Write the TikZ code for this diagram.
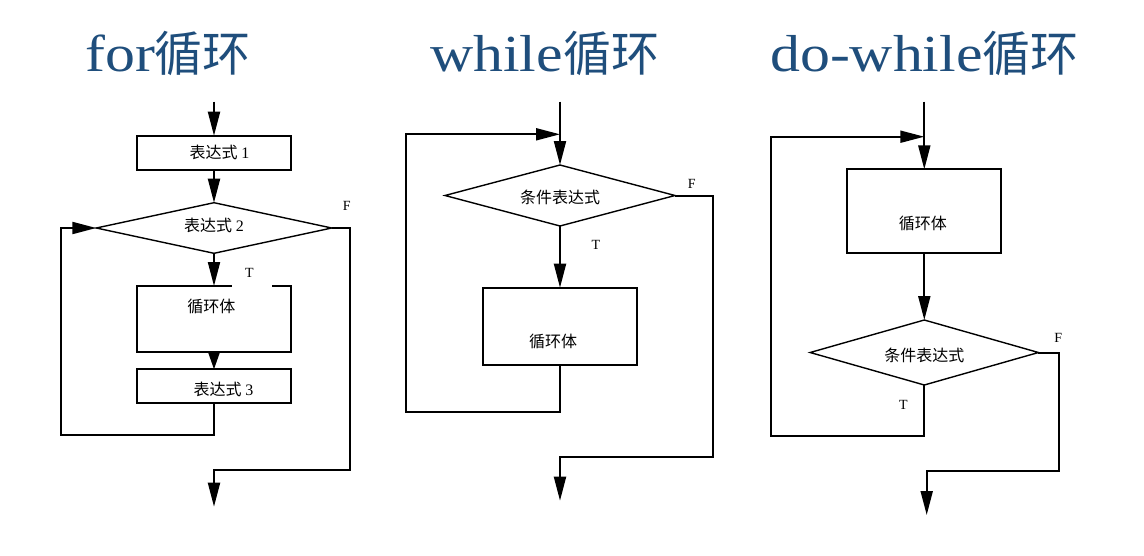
\documentclass[tikz,border=0pt]{standalone}
\usepackage{fontspec}
\setmainfont{Liberation Serif}
\newfontfamily\cjk{Noto Sans CJK SC}
\newfontfamily\titlefont[FakeStretch=1.15]{Liberation Serif}
\usetikzlibrary{arrows.meta,shapes.geometric}
\definecolor{titleblue}{HTML}{1F4E7C}
\begin{document}
\begin{tikzpicture}[x=1pt,y=-1pt,
  box/.style={draw, line width=2pt, rectangle, inner sep=0pt, outer sep=0pt},
  dia/.style={draw, line width=1.4pt, diamond, inner sep=0pt, outer sep=0pt},
  conn/.style={line width=2pt},
  arr/.style={conn, -{Triangle[length=24pt,width=12pt]}},
  shortarr/.style={conn, -{Triangle[length=18pt,width=12pt]}},
  lbl/.style={font=\fontsize{14}{16}\selectfont, inner sep=0pt},
  ctext/.style={font=\fontsize{16}{18}\selectfont\cjk, inner sep=0pt},
  title/.style={font=\fontsize{52}{60}\selectfont\titlefont, text=titleblue, inner sep=0pt},
  tcjk/.style={}]
\useasboundingbox (0,0) rectangle (1144,555);

% titles
\node[title, anchor=base west] (t1) at (85,71) {for{\fontsize{48}{60}\selectfont\cjk 循环}};
\node[title, anchor=base west] (t2) at (430,71) {while{\fontsize{48}{60}\selectfont\cjk 循环}};
\node[title, anchor=base west] (t3) at (770,71) {do-while{\fontsize{48}{60}\selectfont\cjk 循环}};

% ---------- for loop ----------
\coordinate (s1) at (214,101.7);
\node[box, minimum width=154.3, minimum height=34.3,
  label={[ctext, xshift=5.5]center:{\cjk 表达式} {\rmfamily 1}}] (e1) at (214,152.85) {};
\node[dia, minimum width=235.4, minimum height=50.6,
  label={[ctext, yshift=3]center:{\cjk 表达式} {\rmfamily 2}}] (d2) at (214,228) {};
\node[box, minimum width=154.3, minimum height=65.7,
  label={[ctext, xshift=-2.7, yshift=12]center:循环体}] (b1) at (214,318.85) {};
\node[box, minimum width=154.3, minimum height=33.4,
  label={[ctext, xshift=9.5, yshift=-3]center:{\cjk 表达式} {\rmfamily 3}}] (e3) at (214,386) {};
\draw[white, line width=3.5pt] ([xshift=18]b1.north) -- ([xshift=58]b1.north);
\coordinate (c1) at (60.7,435);
\coordinate (c2) at (350,470);
\coordinate (f1) at (214,506.7);
\draw[arr] (s1) -- (e1.north);
\draw[arr] (e1.south) -- (d2.north);
\draw[arr] (d2.south) -- (b1.north);
\draw[shortarr] (b1.south) -- (e3.north);
\draw[arr] (e3.south) |- (c1) |- (d2.west);
\draw[arr] (d2.east) -| (c2) -| (f1);
\node[lbl] (F1) at (346.7,206) {F};
\node[lbl] (T1) at (249.3,272.7) {T};

% ---------- while loop ----------
\coordinate (s2) at (560,101.7);
\coordinate (j2) at (560,134.3);
\node[dia, minimum width=230, minimum height=61,
  label={[ctext, yshift=-1.8]center:条件表达式}] (d4) at (560,195.5) {};
\node[box, minimum width=154.3, minimum height=77.3,
  label={[ctext, xshift=-7, yshift=-15.4]center:循环体}] (b2) at (560,326.35) {};
\coordinate (c3) at (405.7,411.7);
\coordinate (c4) at (713.3,456.7);
\coordinate (f2) at (560,500.7);
\draw[arr] (s2) -- (d4.north);
\draw[arr] (d4.south) -- (b2.north);
\draw[arr] (b2.south) |- (c3) |- (j2);
\draw[arr] (d4.east) -| (c4) -| (f2);
\node[lbl] (F2) at (691.7,184) {F};
\node[lbl] (T2) at (596,245) {T};

% ---------- do-while loop ----------
\coordinate (s3) at (924.3,101.7);
\coordinate (j3) at (924.3,136.7);
\node[box, minimum width=154.3, minimum height=83.4,
  label={[ctext, xshift=-1.5, yshift=-12.3]center:循环体}] (b3) at (924.3,211) {};
\node[dia, minimum width=228.3, minimum height=65,
  label={[ctext, yshift=-2.5]center:条件表达式}] (d5) at (924.3,352.5) {};
\coordinate (c5) at (771,435.7);
\coordinate (c6) at (1059,470.7);
\coordinate (f3) at (926.7,515);
\draw[arr] (s3) -- (b3.north);
\draw[arr] (b3.south) -- (d5.north);
\draw[arr] (d5.south) |- (c5) |- (j3);
\draw[arr] (d5.east) -| (c6) -| (f3);
\node[lbl] (F3) at (1058.3,338.3) {F};
\node[lbl] (T3) at (903.3,405) {T};
\end{tikzpicture}
\end{document}
